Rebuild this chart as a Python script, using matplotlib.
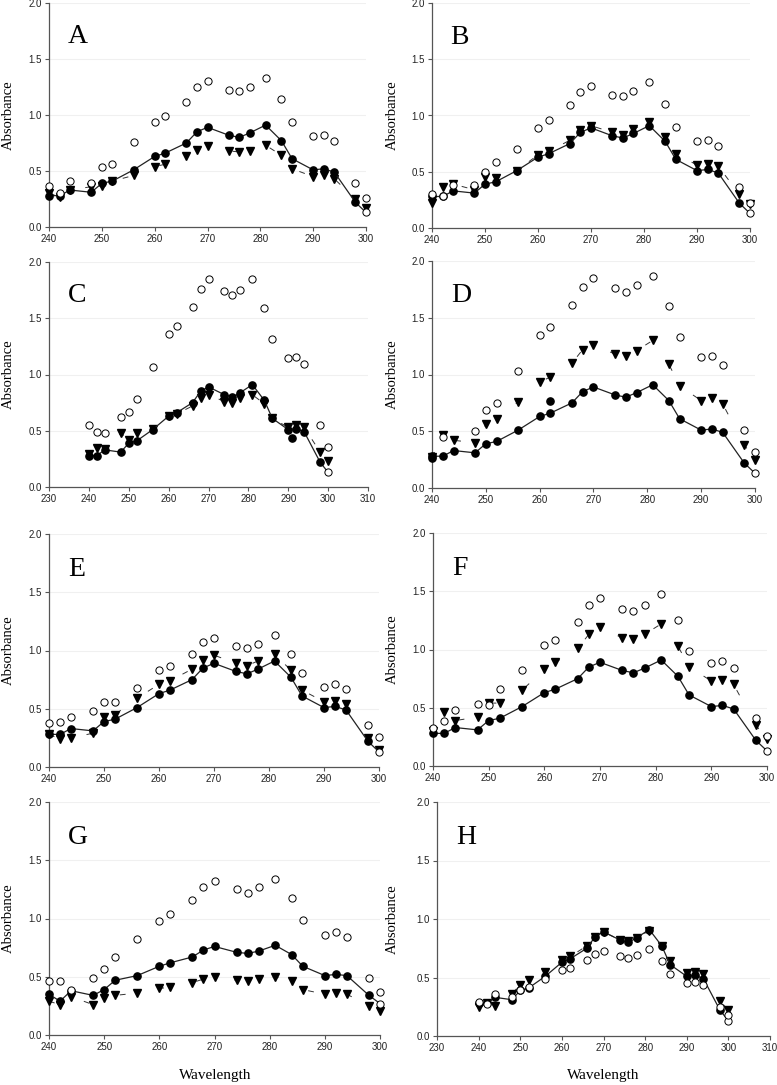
import numpy as np
import matplotlib
matplotlib.use("Agg")
import matplotlib.pyplot as plt

plt.rcParams['font.family'] = ['Liberation Sans', 'DejaVu Sans']

W, H = 777, 1085

# wavelengths (nm), shared by every panel
wl = [240, 242, 244, 248, 250, 252, 256, 260, 262, 266, 268, 270,
      274, 276, 278, 281, 284, 286, 290, 292, 294, 298, 300]

# reference spectrum (filled circles with line)
ref = [0.28, 0.28, 0.33, 0.31, 0.39, 0.41, 0.51, 0.63, 0.66, 0.75, 0.85, 0.89,
       0.82, 0.80, 0.84, 0.91, 0.77, 0.61, 0.51, 0.52, 0.49, 0.22, 0.13]
ref_G = [0.35, 0.29, 0.38, 0.34, 0.39, 0.47, 0.51, 0.59, 0.62, 0.67, 0.73, 0.76,
         0.71, 0.70, 0.72, 0.77, 0.69, 0.59, 0.51, 0.52, 0.51, 0.34, 0.27]

open_A = [0.37, 0.30, 0.41, 0.39, 0.54, 0.56, 0.76, 0.94, 0.99, 1.12, 1.25, 1.30,
          1.22, 1.21, 1.25, 1.33, 1.14, 0.94, 0.81, 0.82, 0.77, 0.39, 0.26]
tri_A = [0.30, 0.27, 0.33, 0.36, 0.37, 0.41, 0.46, 0.54, 0.56, 0.63, 0.69, 0.72,
         0.68, 0.67, 0.68, 0.73, 0.64, 0.52, 0.45, 0.46, 0.43, 0.25, 0.17]

open_B = [0.30, 0.28, 0.38, 0.38, 0.50, 0.59, 0.70, 0.89, 0.96, 1.09, 1.21, 1.26,
          1.18, 1.17, 1.22, 1.30, 1.10, 0.90, 0.77, 0.78, 0.73, 0.36, 0.22]
tri_B = [0.22, 0.36, 0.39, 0.34, 0.45, 0.44, 0.51, 0.65, 0.68, 0.78, 0.87, 0.91,
         0.85, 0.83, 0.88, 0.94, 0.81, 0.66, 0.56, 0.57, 0.55, 0.30, 0.21]

open_C = [0.55, 0.49, 0.48, 0.62, 0.67, 0.78, 1.07, 1.36, 1.43, 1.60, 1.76, 1.85,
          1.74, 1.71, 1.75, 1.85, 1.59, 1.32, 1.15, 1.16, 1.09, 0.55, 0.36]
tri_C = [0.29, 0.35, 0.34, 0.48, 0.42, 0.48, 0.52, 0.63, 0.65, 0.72, 0.79, 0.82,
         0.76, 0.75, 0.79, 0.82, 0.74, 0.61, 0.53, 0.55, 0.53, 0.31, 0.23]

open_D = [np.nan, 0.45, np.nan, 0.50, 0.69, 0.75, 1.03, 1.35, 1.42, 1.61, 1.77, 1.85,
          1.76, 1.73, 1.79, 1.87, 1.60, 1.33, 1.15, 1.16, 1.08, 0.51, 0.32]
tri_D = [0.27, 0.47, 0.42, 0.40, 0.56, 0.61, 0.76, 0.93, 0.98, 1.10, 1.22, 1.26,
         1.18, 1.16, 1.21, 1.30, 1.09, 0.90, 0.77, 0.79, 0.74, 0.38, 0.25]

open_E = [0.38, 0.39, 0.43, 0.48, 0.56, 0.56, 0.68, 0.83, 0.87, 0.97, 1.07, 1.11,
          1.04, 1.02, 1.06, 1.13, 0.97, 0.81, 0.69, 0.71, 0.67, 0.36, 0.26]
tri_E = [0.28, 0.24, 0.25, 0.29, 0.43, 0.45, 0.59, 0.71, 0.74, 0.84, 0.92, 0.96,
         0.89, 0.87, 0.91, 0.97, 0.83, 0.66, 0.56, 0.57, 0.54, 0.25, 0.15]

open_F = [0.33, 0.39, 0.48, 0.53, 0.52, 0.66, 0.82, 1.04, 1.08, 1.24, 1.38, 1.44,
          1.35, 1.33, 1.38, 1.48, 1.25, 0.99, 0.88, 0.90, 0.84, 0.41, 0.26]
tri_F = [0.30, 0.46, 0.39, 0.42, 0.54, 0.54, 0.65, 0.83, 0.89, 1.01, 1.13, 1.19,
         1.10, 1.09, 1.13, 1.22, 1.03, 0.85, 0.73, 0.74, 0.70, 0.35, 0.23]

open_G = [0.46, 0.46, 0.39, 0.49, 0.57, 0.67, 0.82, 0.98, 1.04, 1.16, 1.27, 1.32,
          1.25, 1.22, 1.27, 1.34, 1.18, 0.99, 0.86, 0.88, 0.84, 0.49, 0.37]
tri_G = [0.29, 0.26, 0.33, 0.26, 0.32, 0.34, 0.36, 0.40, 0.41, 0.45, 0.48, 0.50,
         0.47, 0.46, 0.48, 0.50, 0.46, 0.39, 0.35, 0.36, 0.35, 0.25, 0.21]

open_H = [0.29, 0.27, 0.36, 0.33, 0.39, 0.42, 0.49, 0.56, 0.58, 0.65, 0.70, 0.73,
          0.68, 0.67, 0.69, 0.74, 0.64, 0.53, 0.45, 0.46, 0.44, 0.25, 0.18]
tri_H = [0.25, 0.28, 0.26, 0.36, 0.44, 0.48, 0.55, 0.65, 0.68, 0.77, 0.85, 0.89,
         0.82, 0.81, 0.84, 0.90, 0.77, 0.64, 0.54, 0.55, 0.53, 0.30, 0.22]

# stray filled points that sit off the reference line
extra_C_x, extra_C_y = [291], [0.44]
extra_D_x, extra_D_y = [240, 262], [0.26, 0.77]

# panel: letter, filled, open, triangles, extra, xlim, pixel box (l, r, t, b)
panels = [
    ('A', ref, open_A, tri_A, None, (240, 300), (49, 366, 3, 227)),
    ('B', ref, open_B, tri_B, None, (240, 300), (432, 750, 3, 228)),
    ('C', ref, open_C, tri_C, (extra_C_x, extra_C_y), (230, 310), (49, 368, 262, 487)),
    ('D', ref, open_D, tri_D, (extra_D_x, extra_D_y), (240, 300), (432, 755, 261, 488)),
    ('E', ref, open_E, tri_E, None, (240, 300), (49, 379, 534, 767)),
    ('F', ref, open_F, tri_F, None, (240, 300), (433, 767, 533, 766)),
    ('G', ref_G, open_G, tri_G, None, (240, 300), (49, 380, 802, 1035)),
    ('H', ref, open_H, tri_H, None, (230, 310), (437, 770, 802, 1036)),
]

fig = plt.figure(figsize=(W / 100, H / 100), dpi=100)
serif = ['Liberation Serif', 'DejaVu Serif']
ms = 5.2

for letter, filled, opn, tri, extra, xlim, (l, r, t, b) in panels:
    ax = fig.add_axes([l / W, 1 - b / H, (r - l) / W, (b - t) / H])
    ax.set_xlim(*xlim)
    ax.set_ylim(0, 2.0)
    ax.set_xticks(np.arange(xlim[0], xlim[1] + 1, 10))
    ax.set_yticks([0.0, 0.5, 1.0, 1.5, 2.0])
    ax.yaxis.set_major_formatter(matplotlib.ticker.FormatStrFormatter('%.1f'))
    for yv in [0.5, 1.0, 1.5, 2.0]:
        ax.axhline(yv, color='#f0f0f0', lw=0.8, zorder=0)
    for s in ['top', 'right']:
        ax.spines[s].set_visible(False)
    for s in ['left', 'bottom']:
        ax.spines[s].set_color('#555555')
        ax.spines[s].set_linewidth(0.9)
    ax.tick_params(axis='both', direction='out', length=3, width=0.8, color='#555555',
                   labelsize=7, labelcolor='#222222', pad=2)

    # triangle series: sparse dashed connecting line + markers
    ax.plot(wl, tri, color='#333333', lw=0.7, ls=(0, (6, 34)), zorder=2, clip_on=False)
    ax.plot(wl, tri, 'v', color='black', ms=ms, mec='black', zorder=3, clip_on=False)

    # reference: solid line, filled circles, last point drawn open
    ax.plot(wl, filled, '-', color='#222222', lw=0.9, zorder=4, clip_on=False)
    ax.plot(wl[:-1], filled[:-1], 'o', color='black', ms=ms, zorder=5, clip_on=False)
    ax.plot(wl[-1:], filled[-1:], 'o', mfc='white', mec='black', mew=0.7, ms=ms,
            zorder=6, clip_on=False)
    if extra is not None:
        ax.plot(extra[0], extra[1], 'o', color='black', ms=ms, zorder=5, clip_on=False)

    ax.plot(wl, opn, 'o', mfc='white', mec='black', mew=0.7, ms=ms, zorder=6, clip_on=False)

    ax.text(0.058, 0.82, letter, transform=ax.transAxes, family=serif, fontsize=20,
            ha='left', va='baseline')

    xc = 8 if l < 200 else 392
    fig.text(xc / W, 1 - (t + b) / 2 / H, 'Absorbance', rotation=90, family=serif,
             fontsize=10.5, ha='center', va='center')

fig.text(215 / W, 1 - 1075 / H, 'Wavelength', family=serif, fontsize=11,
         ha='center', va='center')
fig.text(603 / W, 1 - 1075 / H, 'Wavelength', family=serif, fontsize=11,
         ha='center', va='center')

fig.savefig('out.png', dpi=100)
